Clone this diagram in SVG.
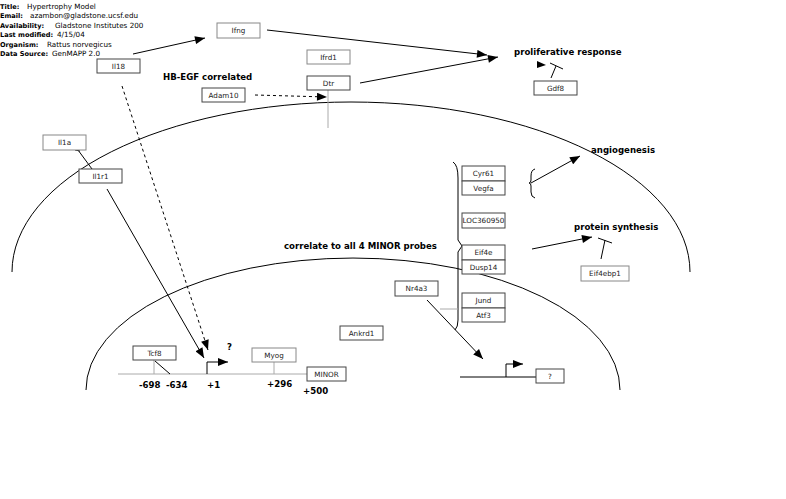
<svg xmlns="http://www.w3.org/2000/svg" width="786" height="499" viewBox="0 0 786 499">
<style>
.hdr{font-family:"DejaVu Sans",Verdana,sans-serif;font-size:7.2px;fill:#000}
.hdr .b{font-weight:bold;font-size:6.6px}
.box{fill:#fff;stroke:#444;stroke-width:1}
.boxl{fill:#fff;stroke:#888;stroke-width:1}
.lbl{font-family:"DejaVu Sans",Verdana,sans-serif;font-size:7.2px;fill:#222;text-anchor:middle}
.big{font-family:"DejaVu Sans",Verdana,sans-serif;font-size:8.6px;font-weight:bold;fill:#000}
.ln{fill:none;stroke:#000;stroke-width:1}
.arr{fill:none;stroke:#000;stroke-width:1;marker-end:url(#ah)}
.dash{fill:none;stroke:#000;stroke-width:1;stroke-dasharray:3,3;marker-end:url(#ah)}
.grey{fill:none;stroke:#aaa;stroke-width:1}
</style>
<defs>
<marker id="ah" viewBox="0 0 10 8" refX="10" refY="4" markerWidth="11" markerHeight="8" markerUnits="userSpaceOnUse" orient="auto"><path d="M0,0 L10,4 L0,8 z" fill="#000"/></marker>
</defs>
<rect width="786" height="499" fill="#fff"/>
<g id="header" class="hdr">
<text x="0" y="8.6" class="b">Title:</text><text x="27" y="8.6">Hypertrophy Model</text>
<text x="0" y="18.2" class="b">Email:</text><text x="30" y="18.2">azambon@gladstone.ucsf.edu</text>
<text x="0" y="27.8" class="b">Availability:</text><text x="55" y="27.8">Gladstone Institutes 200</text>
<text x="0" y="37.3" class="b">Last modified:</text><text x="57" y="37.3">4/15/04</text>
<text x="0" y="46.9" class="b">Organism:</text><text x="47" y="46.9">Rattus norvegicus</text>
<text x="0" y="56.2" class="b">Data Source:</text><text x="52" y="56.2">GenMAPP 2.0</text>
</g>
<g id="shapes">
<path class="ln" d="M12,272 A339,170 0 0 1 690,272"/>
<path class="ln" d="M86,390 A267,132 0 0 1 620,390"/>
<path class="ln" d="M453,162 Q458,165 458,178 L458,240 L462,246 L458,252 L458,320 Q458,327 455,330"/>
<path class="ln" d="M535,169 Q531,170 531,176 L531,180 Q531,183 529,183 Q531,183 531,186 L531,192 Q531,197 535,198"/>
<line class="grey" x1="118" y1="374" x2="307" y2="374"/>
<line class="ln" x1="460" y1="377" x2="536" y2="377"/>
</g>
<g id="connectors">
<line class="arr" x1="133" y1="54" x2="205" y2="38"/>
<line class="arr" x1="267" y1="30" x2="487" y2="55"/>
<line class="arr" x1="360" y1="83" x2="498" y2="57"/>
<line class="dash" x1="255" y1="95" x2="327" y2="97"/>
<line class="grey" x1="328" y1="90" x2="328" y2="128"/>
<polygon points="537,61 546,65 537,68" fill="#000"/>
<line class="ln" x1="550" y1="63" x2="563" y2="69"/>
<line class="ln" x1="551" y1="78" x2="556" y2="66"/>
<line class="ln" x1="78" y1="150" x2="92" y2="169"/>
<line class="ln" x1="75" y1="150" x2="80" y2="151"/>
<line class="dash" x1="122" y1="86" x2="208" y2="350"/>
<line class="arr" x1="107" y1="189" x2="204" y2="358"/>
<line class="grey" x1="154" y1="360" x2="154" y2="374"/>
<line class="ln" x1="155" y1="361" x2="170" y2="374"/>
<line class="grey" x1="274" y1="362" x2="274" y2="374"/>
<path class="arr" d="M207,374 L207,362 L228,362"/>
<path class="arr" d="M506,377 L506,364 L523,364"/>
<line class="arr" x1="531" y1="183" x2="580" y2="156"/>
<line class="arr" x1="532" y1="249" x2="592" y2="237"/>
<line class="ln" x1="598" y1="238" x2="612" y2="243"/>
<line class="ln" x1="601" y1="259" x2="605" y2="240"/>
<line class="arr" x1="427" y1="300" x2="483" y2="359"/>
<line class="grey" x1="440" y1="309" x2="458" y2="309"/>
</g>
<g id="n-Il18"><rect class="box" x="97" y="59" width="43" height="14"/><text class="lbl" x="118.5" y="68.6">Il18</text></g>
<g id="n-Ifng"><rect class="boxl" x="217" y="23" width="43" height="15"/><text class="lbl" x="238.5" y="33.1">Ifng</text></g>
<g id="n-Ifrd1"><rect class="boxl" x="307" y="50" width="43" height="14"/><text class="lbl" x="328.5" y="59.6">Ifrd1</text></g>
<g id="n-Dtr"><rect class="box" x="307" y="76" width="43" height="14"/><text class="lbl" x="328.5" y="85.6">Dtr</text></g>
<g id="n-Adam10"><rect class="box" x="202" y="88" width="43" height="14"/><text class="lbl" x="223.5" y="97.6">Adam10</text></g>
<g id="n-Gdf8"><rect class="box" x="534" y="81" width="43" height="14"/><text class="lbl" x="555.5" y="90.6">Gdf8</text></g>
<g id="n-Il1a"><rect class="boxl" x="43" y="135" width="43" height="15"/><text class="lbl" x="64.5" y="145.1">Il1a</text></g>
<g id="n-Il1r1"><rect class="box" x="79" y="169" width="43" height="14"/><text class="lbl" x="100.5" y="178.6">Il1r1</text></g>
<g id="n-Cyr61"><rect class="box" x="462" y="166" width="43" height="15"/><text class="lbl" x="483.5" y="176.1">Cyr61</text></g>
<g id="n-Vegfa"><rect class="box" x="462" y="181" width="43" height="14"/><text class="lbl" x="483.5" y="190.6">Vegfa</text></g>
<g id="n-LOC360950"><rect class="box" x="462" y="213" width="43" height="15"/><text class="lbl" x="483.5" y="223.1">LOC360950</text></g>
<g id="n-Eif4e"><rect class="box" x="462" y="245" width="43" height="15"/><text class="lbl" x="483.5" y="255.1">Eif4e</text></g>
<g id="n-Dusp14"><rect class="box" x="462" y="260" width="43" height="14"/><text class="lbl" x="483.5" y="269.6">Dusp14</text></g>
<g id="n-Jund"><rect class="box" x="462" y="293" width="43" height="15"/><text class="lbl" x="483.5" y="303.1">Jund</text></g>
<g id="n-Atf3"><rect class="box" x="462" y="308" width="43" height="14"/><text class="lbl" x="483.5" y="317.6">Atf3</text></g>
<g id="n-Eif4ebp1"><rect class="boxl" x="581" y="266" width="48" height="15"/><text class="lbl" x="605" y="276.1">Eif4ebp1</text></g>
<g id="n-Nr4a3"><rect class="box" x="395" y="281" width="43" height="15"/><text class="lbl" x="416.5" y="291.1">Nr4a3</text></g>
<g id="n-Ankrd1"><rect class="box" x="340" y="326" width="43" height="14"/><text class="lbl" x="361.5" y="335.6">Ankrd1</text></g>
<g id="n-Tcf8"><rect class="box" x="133" y="346" width="43" height="14"/><text class="lbl" x="154.5" y="355.6">Tcf8</text></g>
<g id="n-Myog"><rect class="boxl" x="252" y="348" width="44" height="14"/><text class="lbl" x="274" y="357.6">Myog</text></g>
<g id="n-MINOR"><rect class="box" x="307" y="367" width="39" height="14"/><text class="lbl" x="326.5" y="376.6">MINOR</text></g>
<g id="n-unknown"><rect class="box" x="536" y="369" width="28" height="14"/><text class="lbl" x="550" y="378.6">?</text></g>
<g id="labels" class="big">
<text x="163" y="80">HB-EGF correlated</text>
<text x="514" y="55">proliferative response</text>
<text x="591" y="153">angiogenesis</text>
<text x="574" y="230">protein synthesis</text>
<text x="284" y="248.8">correlate to all 4 MINOR probes</text>
<text x="227" y="350">?</text>
<text x="139" y="388">-698</text>
<text x="166" y="388">-634</text>
<text x="207" y="388">+1</text>
<text x="267" y="387">+296</text>
<text x="303" y="394">+500</text>
</g>
</svg>
